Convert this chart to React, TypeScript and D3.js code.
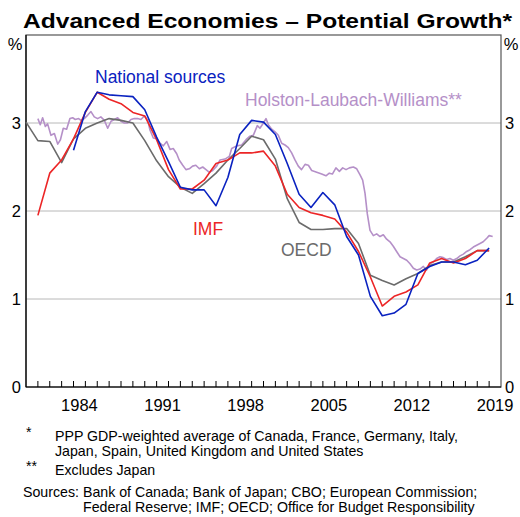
import * as d3 from 'd3';

// annual estimates, plotted at the start of each year
const imfYears = d3.range(1981, 2020);
const imfValues = [
  1.95, 2.43, 2.58, 2.82, 3.12, 3.35, 3.27, 3.22, 3.12, 3.08,
  2.81, 2.47, 2.25, 2.25, 2.35, 2.54, 2.58, 2.66, 2.66, 2.68,
  2.51, 2.19, 2.04, 1.98, 1.95, 1.91, 1.76, 1.54, 1.25, 0.92,
  1.03, 1.08, 1.16, 1.41, 1.46, 1.41, 1.46, 1.55, 1.55,
];

const nationalYears = d3.range(1984, 2020);
const nationalValues = [
  2.69, 3.13, 3.35, 3.32, 3.31, 3.30, 3.15, 2.84, 2.56, 2.27,
  2.24, 2.24, 2.06, 2.38, 2.87, 3.03, 3.01, 2.87, 2.54, 2.19,
  2.04, 2.21, 2.07, 1.71, 1.50, 1.03, 0.81, 0.84, 0.94, 1.29,
  1.37, 1.42, 1.42, 1.39, 1.44, 1.58,
];

const oecdYears = d3.range(1980, 2020);
const oecdValues = [
  3.01, 2.80, 2.79, 2.55, 2.82, 2.94, 3.00, 3.05, 3.03, 3.00,
  2.80, 2.57, 2.39, 2.27, 2.20, 2.31, 2.43, 2.58, 2.71, 2.85,
  2.81, 2.59, 2.14, 1.87, 1.79, 1.79, 1.80, 1.80, 1.63, 1.27,
  1.21, 1.16, 1.23, 1.29, 1.38, 1.42, 1.42, 1.48, 1.55, 1.55,
];

// Holston-Laubach-Williams, roughly quarterly
const hlwDates = [
  1981.0, 1981.2, 1981.4, 1981.63, 1981.82, 1982.1, 1982.39, 1982.67, 1982.9, 1983.14,
  1983.42, 1983.7, 1983.93, 1984.15, 1984.43, 1984.63, 1984.9, 1985.2, 1985.47, 1985.75,
  1986.03, 1986.3, 1986.6, 1986.88, 1987.16, 1987.44, 1987.72, 1988.0, 1988.28, 1988.56,
  1988.84, 1989.12, 1989.4, 1989.68, 1989.96, 1990.25, 1990.44, 1990.72, 1991.0, 1991.28,
  1991.56, 1991.85, 1992.13, 1992.4, 1992.69, 1992.9, 1993.2, 1993.47, 1993.75, 1994.03,
  1994.3, 1994.6, 1994.88, 1995.16, 1995.44, 1995.72, 1996.06, 1996.34, 1996.76, 1997.12,
  1997.32, 1997.74, 1998.16, 1998.53, 1998.86, 1999.14, 1999.48, 1999.7, 1999.99, 2000.21,
  2000.41, 2000.69, 2000.97, 2001.25, 2001.53, 2001.81, 2002.09, 2002.37, 2002.65, 2002.93,
  2003.2, 2003.5, 2003.78, 2004.06, 2004.48, 2004.9, 2005.26, 2005.54, 2005.8, 2006.1,
  2006.39, 2006.67, 2006.95, 2007.23, 2007.57, 2007.85, 2008.13, 2008.35, 2008.55, 2008.74,
  2008.97, 2009.25, 2009.53, 2009.81, 2010.09, 2010.37, 2010.65, 2010.93, 2011.21, 2011.5,
  2011.78, 2012.06, 2012.34, 2012.62, 2012.9, 2013.18, 2013.46, 2013.74, 2014.02, 2014.3,
  2014.58, 2014.86, 2015.14, 2015.42, 2015.7, 2015.98, 2016.27, 2016.55, 2016.83, 2017.11,
  2017.39, 2017.67, 2017.95, 2018.23, 2018.5, 2018.8, 2019.0, 2019.3,
];
const hlwValues = [
  3.05, 2.98, 3.06, 2.96, 2.99, 2.86, 2.88, 2.76, 2.81, 2.94,
  2.93, 3.05, 3.06, 3.04, 3.05, 3.03, 3.05, 3.09, 3.13, 3.07,
  3.05, 3.07, 3.03, 2.94, 3.02, 3.04, 3.06, 3.02, 3.00, 3.00,
  3.04, 3.05, 3.05, 3.04, 3.08, 3.03, 2.92, 2.83, 2.82, 2.77,
  2.74, 2.79, 2.70, 2.71, 2.65, 2.58, 2.52, 2.47, 2.48, 2.51,
  2.52, 2.48, 2.50, 2.47, 2.44, 2.46, 2.51, 2.58, 2.59, 2.62,
  2.71, 2.74, 2.75, 2.81, 2.85, 2.86, 2.97, 2.94, 3.00, 3.05,
  2.98, 2.93, 2.90, 2.86, 2.77, 2.75, 2.72, 2.66, 2.58, 2.51,
  2.47, 2.53, 2.52, 2.46, 2.44, 2.42, 2.40, 2.43, 2.42, 2.49,
  2.45, 2.49, 2.47, 2.49, 2.50, 2.48, 2.41, 2.35, 2.20, 1.97,
  1.78, 1.72, 1.74, 1.71, 1.73, 1.68, 1.65, 1.60, 1.54, 1.48,
  1.46, 1.44, 1.40, 1.35, 1.33, 1.34, 1.37, 1.33, 1.40, 1.42,
  1.46, 1.48, 1.47, 1.45, 1.46, 1.44, 1.46, 1.49, 1.51, 1.54,
  1.56, 1.59, 1.61, 1.63, 1.65, 1.69, 1.72, 1.71,
];

const yTicks = [0, 1, 2, 3];
const xLabelYears = [1984, 1991, 1998, 2005, 2012, 2019];
const tickYears = d3.range(1981, 2020);

const FONT = '"Liberation Sans", Arial, sans-serif';
const BLUE = '#0a22c0';
const RED = '#ec2526';
const GREY = '#6b6b6b';
const PURPLE = '#b590c8';

export default function App() {
  const left = 26;
  const right = 501;
  const top = 35;
  const bottom = 387;

  const x = d3.scaleLinear().domain([1980, 2020]).range([left, right]);
  const y = d3.scaleLinear().domain([0, 4]).range([bottom, top]);

  const line = d3.line<[number, number]>()
    .x((d) => x(d[0]))
    .y((d) => y(d[1]));

  const zip = (xs: number[], vs: number[]) => xs.map((v, i) => [v, vs[i]] as [number, number]);

  const series = [
    { pts: zip(hlwDates, hlwValues), color: PURPLE, w: 1.6 },
    { pts: zip(oecdYears, oecdValues), color: GREY, w: 1.6 },
    { pts: zip(imfYears, imfValues), color: RED, w: 1.6 },
    { pts: zip(nationalYears, nationalValues), color: BLUE, w: 1.6 },
  ];

  return (
    <div style={{ position: 'absolute', left: 0, top: 0 }}>
      <svg width={520} height={517} style={{ display: 'block', background: '#fff' }} fontFamily={FONT}>
        <text x={23} y={28} fontSize={21} fontWeight="bold" fill="#000" textLength={489} lengthAdjust="spacingAndGlyphs">
          Advanced Economies – Potential Growth*
        </text>

        {/* gridlines */}
        {yTicks.filter((t) => t > 0).map((t) => (
          <line key={t} x1={left} x2={right} y1={y(t)} y2={y(t)} stroke="#b8b8b8" strokeWidth={1} />
        ))}

        {/* frame */}
        <rect x={left} y={top} width={right - left} height={bottom - top} fill="none" stroke="#555" strokeWidth={1.2} />
        <line x1={left} x2={left} y1={top} y2={bottom} stroke="#000" strokeWidth={1.2} />
        <line x1={left} x2={right} y1={bottom} y2={bottom} stroke="#000" strokeWidth={1.2} />

        {tickYears.map((t) => (
          <line key={t} x1={x(t)} x2={x(t)} y1={bottom} y2={bottom - 6} stroke="#000" strokeWidth={1} />
        ))}

        {series.map((s, i) => (
          <path key={i} d={line(s.pts) || ''} fill="none" stroke={s.color} strokeWidth={s.w} strokeLinejoin="round" />
        ))}

        {/* y labels */}
        <text x={15} y={50} textAnchor="middle" fontSize={16.5}>%</text>
        <text x={511} y={50} textAnchor="middle" fontSize={16.5}>%</text>
        {yTicks.map((t) => (
          <g key={t}>
            <text x={21} y={y(t) + 6} textAnchor="end" fontSize={16.5}>{t}</text>
            <text x={505} y={y(t) + 6} textAnchor="start" fontSize={16.5}>{t}</text>
          </g>
        ))}

        {/* x labels */}
        {xLabelYears.map((yr) => (
          <text key={yr} x={x(yr + 0.5)} y={411} textAnchor="middle" fontSize={16.5}>{yr}</text>
        ))}

        {/* series labels */}
        <text x={95} y={83} fontSize={17.5} fill={BLUE}>National sources</text>
        <text x={245} y={106} fontSize={17.5} fill={PURPLE}>Holston-Laubach-Williams**</text>
        <text x={193} y={235} fontSize={17.5} fill={RED}>IMF</text>
        <text x={281} y={256} fontSize={17.5} fill={GREY}>OECD</text>

        {/* footnotes */}
        <g fontSize={14.2}>
          <text x={26} y={437}>*</text>
          <text x={55} y={441}>PPP GDP-weighted average of Canada, France, Germany, Italy,</text>
          <text x={55} y={456}>Japan, Spain, United Kingdom and United States</text>
          <text x={26} y={471}>**</text>
          <text x={55} y={475}>Excludes Japan</text>
          <text x={23} y={497}>Sources: Bank of Canada; Bank of Japan; CBO; European Commission;</text>
          <text x={83} y={512}>Federal Reserve; IMF; OECD; Office for Budget Responsibility</text>
        </g>
      </svg>
    </div>
  );
}
